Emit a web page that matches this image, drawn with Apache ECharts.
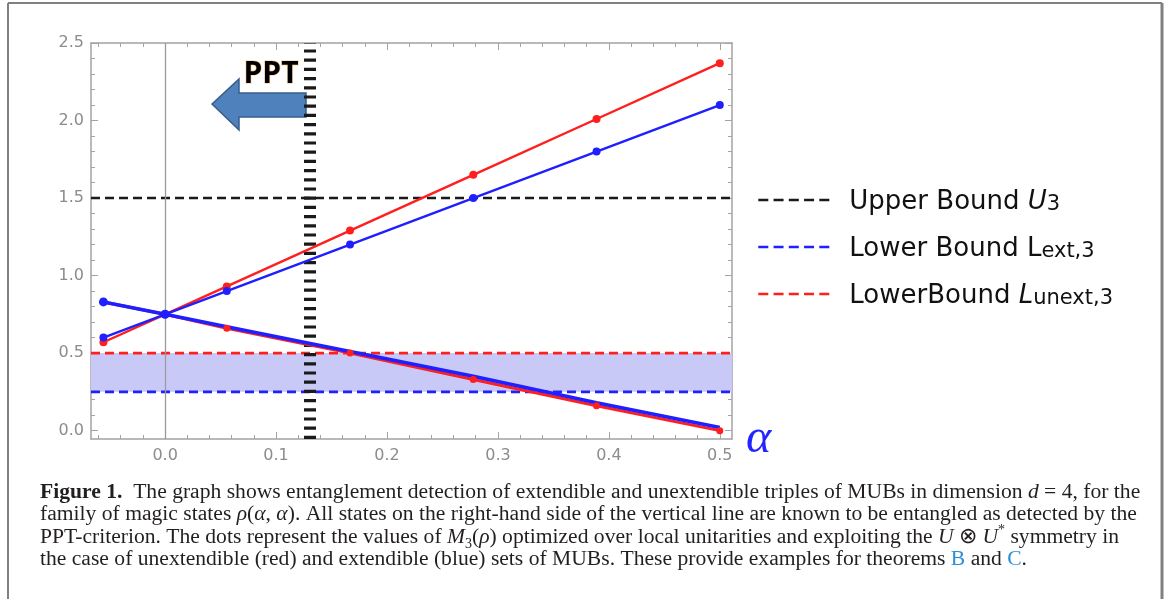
<!DOCTYPE html>
<html>
<head>
<meta charset="utf-8">
<script src="https://cdn.jsdelivr.net/npm/echarts@6/dist/echarts.min.js"></script>
<style>
html,body{margin:0;padding:0;background:#fff;}
#chart{width:1165px;height:599px;}
</style>
</head>
<body>
<div id="chart"></div>
<script>
// ---- data ----
const alphaValues = [-0.0556, 0, 0.0556, 0.1667, 0.2778, 0.3889, 0.5];
const unextUpper = [0.57, 0.75, 0.93, 1.29, 1.65, 2.01, 2.37];
const extUpper   = [0.60, 0.75, 0.90, 1.20, 1.50, 1.80, 2.10];
const unextLower = [0.83, 0.75, 0.66, 0.50, 0.33, 0.16, 0.00];
const extLower   = [0.83, 0.75, 0.67, 0.51, 0.35, 0.18, 0.02];
const extLowerDotShown = [true, true, false, false, false, false, false];
const boundNames  = ['Upper Bound U3', 'Lower Bound Lext,3', 'LowerBound Lunext,3'];
const boundValues = [1.5, 0.25, 0.5];
const pptAlpha = 0.131;
const xRange = [-0.0668, 0.511];
const yRange = [-0.054, 2.5];
const xMajorTicks = [0, 0.1, 0.2, 0.3, 0.4, 0.5];
const xMinorTicks = [-0.06, -0.04, -0.02, 0.02, 0.04, 0.06, 0.08, 0.12, 0.14, 0.16, 0.18, 0.22, 0.24, 0.26, 0.28, 0.32, 0.34, 0.36, 0.38, 0.42, 0.44, 0.46, 0.48];
const yMajorTicks = [0, 0.5, 1.0, 1.5, 2.0, 2.5];
const yMinorTicks = [0.1, 0.2, 0.3, 0.4, 0.6, 0.7, 0.8, 0.9, 1.1, 1.2, 1.3, 1.4, 1.6, 1.7, 1.8, 1.9, 2.1, 2.2, 2.3, 2.4];

const RED = '#ff1f1f', BLUE = '#1f1fff', BLACK = '#1a1a1a';
const pairs = (ys) => alphaValues.map((x, i) => [x, ys[i]]);
const hLine = (v) => [[xRange[0], v], [xRange[1], v]];

const chart = echarts.init(document.getElementById('chart'), null, {renderer: 'canvas'});

const frameColor = '#a3a3a3';
function xAx(pos, ticks, len, showLine, showLabel) {
  return {
    type: 'value', position: pos, min: xRange[0], max: xRange[1],
    splitLine: {show: false},
    axisLine: {show: showLine, onZero: false, lineStyle: {color: frameColor, width: 1.5}},
    axisTick: {show: true, inside: true, length: len, customValues: ticks, lineStyle: {color: frameColor, width: 1}},
    axisLabel: showLabel ? {show: true, customValues: ticks, margin: 9, color: '#8c8c8c', fontFamily: 'DejaVu Sans', fontSize: 16, formatter: v => v.toFixed(1)} : {show: false}
  };
}
function yAx(pos, ticks, len, showLine, showLabel) {
  return {
    type: 'value', position: pos, min: yRange[0], max: yRange[1],
    splitLine: {show: false},
    axisLine: {show: showLine, onZero: false, lineStyle: {color: frameColor, width: 1.5}},
    axisTick: {show: true, inside: true, length: len, customValues: ticks, lineStyle: {color: frameColor, width: 1}},
    axisLabel: showLabel ? {show: true, customValues: ticks, margin: 7, color: '#8c8c8c', fontFamily: 'DejaVu Sans', fontSize: 16, formatter: v => v.toFixed(1)} : {show: false}
  };
}

const xMain = xAx('bottom', xMajorTicks, 7, true, true);
xMain.name = 'α';
xMain.nameLocation = 'end';
xMain.nameGap = 14;
xMain.nameTextStyle = {fontFamily: 'Liberation Serif', fontStyle: 'italic', fontSize: 48, color: '#2424ff', padding: [0, 0, 6, 0]};

const legendRich = {
  n: {fontFamily: 'DejaVu Sans', fontSize: 26, color: '#111', lineHeight: 30, verticalAlign: 'bottom'},
  it: {fontFamily: 'DejaVu Sans', fontSize: 26, fontStyle: 'italic', color: '#111', lineHeight: 30, verticalAlign: 'bottom'},
  s: {fontFamily: 'DejaVu Sans', fontSize: 21, color: '#111', lineHeight: 30, verticalAlign: 'bottom'}
};
const legendLabels = {
  'Upper Bound U3': '{n|Upper Bound }{it|U}{s|3}',
  'Lower Bound Lext,3': '{n|Lower Bound L}{s|ext,3}',
  'LowerBound Lunext,3': '{n|LowerBound }{it|L}{s|unext,3}'
};
const boundColors = [BLACK, BLUE, RED];

const series = [];
boundNames.forEach((nm, i) => {
  const s = {
    name: nm, type: 'line', data: hLine(boundValues[i]), symbol: 'none', z: 3,
    lineStyle: {color: boundColors[i], width: 2.6, type: [9, 5]},
    itemStyle: {color: boundColors[i]}
  };
  if (i === 1) {
    s.markArea = {silent: true, itemStyle: {color: '#c9c9f8'}, data: [[{yAxis: boundValues[1]}, {yAxis: boundValues[2]}]]};
  }
  if (i === 0) {
    s.markLine = {
      silent: true, symbol: ['none', 'none'], label: {show: false}, animation: false,
      data: [
        {xAxis: 0, lineStyle: {color: '#9a9a9a', width: 1.3, type: 'solid'}},
        {xAxis: pptAlpha, lineStyle: {color: BLACK, width: 12, type: [3.2, 6]}}
      ]
    };
  }
  series.push(s);
});

const dataSeries = [
  {name: 'unext-lower', ys: unextLower, color: RED, w: 3, sz: 7},
  {name: 'unext-upper', ys: unextUpper, color: RED, w: 2.4, sz: 8},
  {name: 'ext-upper', ys: extUpper, color: BLUE, w: 2.4, sz: 8},
  {name: 'ext-lower', ys: extLower, color: BLUE, w: 3.6, sz: 9, dots: extLowerDotShown}
];
dataSeries.forEach(d => {
  const data = d.dots
    ? alphaValues.map((x, i) => ({value: [x, d.ys[i]], symbol: d.dots[i] ? 'circle' : 'none'}))
    : pairs(d.ys);
  series.push({
    name: d.name, type: 'line', data: data, symbol: 'circle', symbolSize: d.sz, z: 5,
    lineStyle: {color: d.color, width: d.w}, itemStyle: {color: d.color}
  });
});

const CAP = 21.6;
const capRich = {
  b: {fontFamily: 'Liberation Serif', fontSize: CAP, fontWeight: 'bold', fill: '#231f20'},
  i: {fontFamily: 'Liberation Serif', fontSize: CAP, fontStyle: 'italic', fill: '#231f20'},
  sub: {fontFamily: 'Liberation Serif', fontSize: 14, fill: '#231f20', verticalAlign: 'bottom', lineHeight: 28},
  sup: {fontFamily: 'Liberation Serif', fontSize: 14, fill: '#231f20', verticalAlign: 'top', lineHeight: 28},
  link: {fontFamily: 'Liberation Serif', fontSize: CAP, fill: '#2a8fd8'}
};
const captionLines = [
  '{b|Figure 1.}  The graph shows entanglement detection of extendible and unextendible triples of MUBs in dimension {i|d} = 4, for the',
  'family of magic states {i|ρ}({i|α}, {i|α}). All states on the right-hand side of the vertical line are known to be entangled as detected by the',
  'PPT-criterion. The dots represent the values of {i|M}{sub|3}({i|ρ}) optimized over local unitarities and exploiting the {i|U} ⊗ {i|U}{sup|*} symmetry in',
  'the case of unextendible (red) and extendible (blue) sets of MUBs. These provide examples for theorems {link|B} and {link|C}.'
];
const graphics = [
  {type: 'line', shape: {x1: 8, y1: 3, x2: 1162, y2: 3}, style: {stroke: '#808080', lineWidth: 2}},
  {type: 'line', shape: {x1: 8, y1: 3, x2: 8, y2: 599}, style: {stroke: '#808080', lineWidth: 2}},
  {type: 'line', shape: {x1: 1162, y1: 3, x2: 1162, y2: 599}, style: {stroke: '#808080', lineWidth: 3}},
  {type: 'polygon', z: 1, shape: {points: [[212, 104], [239, 79], [239, 93], [306, 93], [306, 117], [239, 117], [239, 130]]},
   style: {fill: '#4f81bd', stroke: '#385d8a', lineWidth: 1.5}},
  {type: 'text', z: 10, x: 271, y: 74, style: {text: 'PPT', fontFamily: 'Open Sans', fontWeight: 'bold', fontSize: 30, fill: '#000',
   align: 'center', verticalAlign: 'middle', stroke: 'rgba(255,170,60,0.45)', lineWidth: 1.5}}
];
captionLines.forEach((t, i) => {
  graphics.push({type: 'text', x: 40, y: 492 + i * 22.6, style: {text: t, rich: capRich, fontFamily: 'Liberation Serif', fontSize: CAP, fill: '#231f20', verticalAlign: 'middle', align: 'left'}});
});

chart.setOption({
  animation: false,
  backgroundColor: '#fff',
  grid: {left: 91, top: 43, width: 641, height: 396, containLabel: false},
  xAxis: [
    xMain,
    xAx('bottom', xMinorTicks, 4, false, false),
    xAx('top', xMajorTicks, 7, true, false),
    xAx('top', xMinorTicks, 4, false, false)
  ],
  yAxis: [
    yAx('left', yMajorTicks, 7, true, true),
    yAx('left', yMinorTicks, 4, false, false),
    yAx('right', yMajorTicks, 7, true, false),
    yAx('right', yMinorTicks, 4, false, false)
  ],
  legend: {
    data: boundNames, orient: 'vertical', left: 757, top: 185, padding: 0,
    itemWidth: 71, itemHeight: 14, itemGap: 17, selectedMode: false,
    itemStyle: {opacity: 0},
    lineStyle: {type: [10, 5.25], width: 2.6},
    formatter: nm => legendLabels[nm],
    textStyle: {rich: legendRich, padding: [0, 0, 0, 15], lineHeight: 30}
  },
  series: series,
  graphic: graphics
});
</script>
</body>
</html>
